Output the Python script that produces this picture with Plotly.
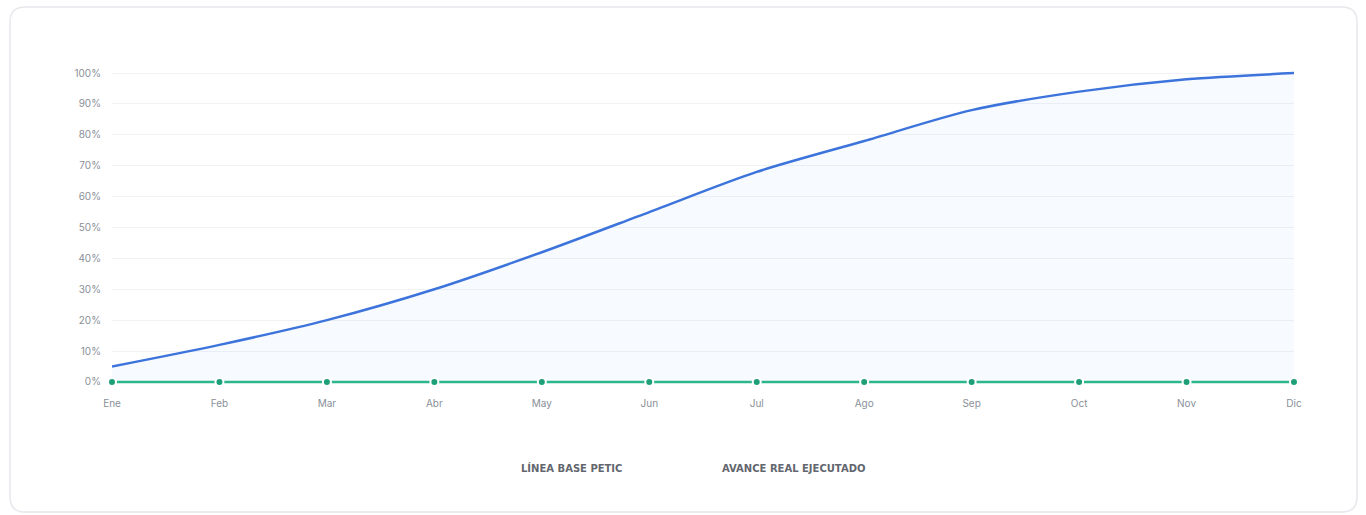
import plotly.graph_objects as go

months = ["Ene", "Feb", "Mar", "Abr", "May", "Jun", "Jul", "Ago", "Sep", "Oct", "Nov", "Dic"]
linea_base = [5, 12, 20, 30, 42, 55, 68, 78, 88, 94, 98, 100]
avance_real = [0, 0, 0, 0, 0, 0, 0, 0, 0, 0, 0, 0]
y_ticks = [0, 10, 20, 30, 40, 50, 60, 70, 80, 90, 100]
legend_labels = ["LÍNEA BASE PETIC", "AVANCE REAL EJECUTADO"]

W, H = 1366, 515
L, R, T, B = 112, 72, 70, 130
pw, ph = W - L - R, H - T - B

def px(x):
    return (x - L) / pw

def py(y):
    return (H - B - y) / ph

fig = go.Figure()
fig.add_trace(go.Scatter(
    x=months, y=linea_base, mode="lines", name=legend_labels[0],
    line=dict(color="#3d74db", width=2.5, shape="spline", smoothing=0.8),
    fill="tozeroy", fillcolor="rgba(59,130,246,0.04)", showlegend=False,
))
fig.add_trace(go.Scatter(
    x=months, y=avance_real, mode="lines+markers", name=legend_labels[1],
    line=dict(color="#2db68c", width=2.5),
    marker=dict(color="#1f9f78", size=8, line=dict(color="white", width=2)),
    cliponaxis=False, showlegend=False,
))

# card
x0, x1 = px(10), px(1357)
y0, y1 = py(512), py(7)
rx, ry = 15 / pw, 15 / ph
path = (f"M {x0+rx},{y1} L {x1-rx},{y1} Q {x1},{y1} {x1},{y1-ry} "
        f"L {x1},{y0+ry} Q {x1},{y0} {x1-rx},{y0} L {x0+rx},{y0} "
        f"Q {x0},{y0} {x0},{y0+ry} L {x0},{y1-ry} Q {x0},{y1} {x0+rx},{y1} Z")
fig.add_shape(type="path", xref="paper", yref="paper", path=path,
              line=dict(color="#e6e8ec", width=1.5), fillcolor="white", layer="below")

for lbl, cx in zip(legend_labels, [571, 793]):
    fig.add_annotation(x=px(cx), y=py(476), xref="paper", yref="paper",
                       text=f"<b>{lbl}</b>", showarrow=False,
                       font=dict(size=10, color="#62666e", family="DejaVu Sans"))

fig.update_layout(
    width=W, height=H,
    margin=dict(l=L, r=R, t=T, b=B),
    paper_bgcolor="white", plot_bgcolor="rgba(0,0,0,0)",
    font=dict(family="Inter", size=10, color="#8a8f98"),
    xaxis=dict(type="category", range=[0, 11], showgrid=False, zeroline=False,
               showline=False, ticks="", ticklabelstandoff=11,
               tickfont=dict(size=10, color="#8a8f98")),
    yaxis=dict(range=[-1, 101], tickvals=y_ticks, ticktext=[f"{v}%" for v in y_ticks],
               showgrid=True, gridcolor="#f0f2f6", gridwidth=1, zeroline=False,
               showline=False, ticks="", ticklabelstandoff=10,
               tickfont=dict(size=10, color="#8a8f98")),
)

fig.write_html("out.html")
